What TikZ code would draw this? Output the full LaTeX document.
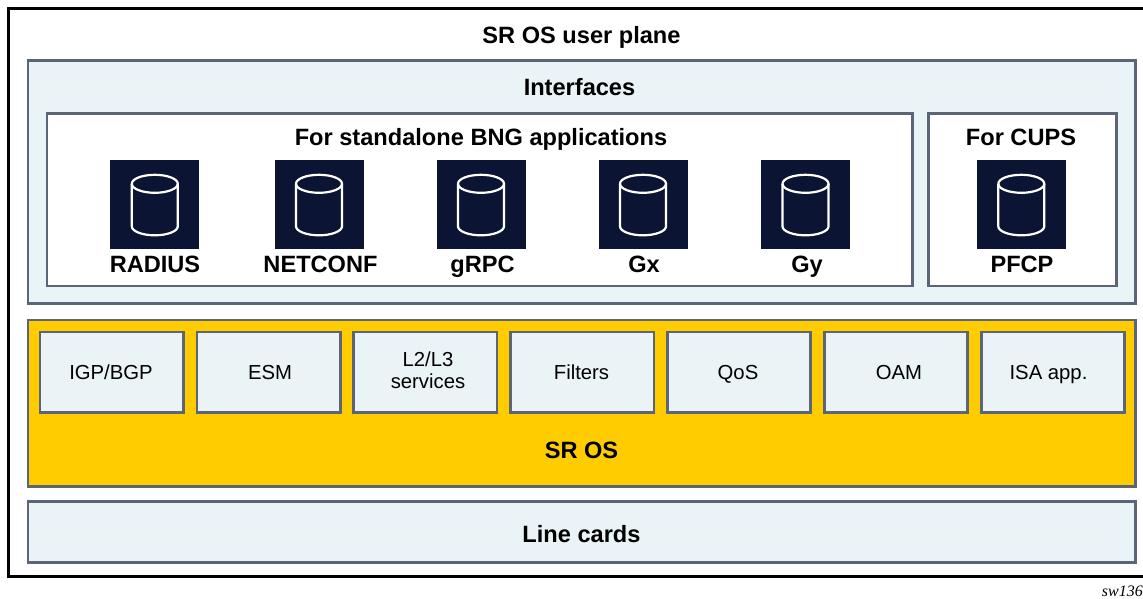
\documentclass[tikz,border=0pt]{standalone}
\usepackage{fontspec}
\setmainfont{Liberation Sans}
\newfontfamily\serifit[ItalicFont=Liberation Serif Italic]{Liberation Serif}
\definecolor{edge}{HTML}{5B6577}
\definecolor{pale}{HTML}{EAF3F5}
\definecolor{navy}{HTML}{0B1533}
\definecolor{gold}{HTML}{FFCC00}
\tikzset{
  x=1pt,y=-1pt,
  panel/.style={draw=edge,line width=2.8pt,fill=pale,rectangle,inner sep=0pt,outer sep=0pt,anchor=north west},
  whitepanel/.style={panel,fill=white},
  goldpanel/.style={panel,fill=gold},
  title/.style={font=\fontsize{23.6}{26}\selectfont\bfseries,text=black,inner sep=0pt,anchor=base},
  tile/.style={panel,minimum width=143.2pt,minimum height=80.4pt},
  tiletext/.style={font=\fontsize{20.3}{21.6}\selectfont,text=black,inner sep=0pt,anchor=base,align=center},
  iconbg/.style={fill=navy,draw=none,rectangle,minimum width=89pt,minimum height=89pt,inner sep=0pt,outer sep=0pt},
}
\newcommand{\dbicon}[3]{%
  \node[iconbg] (#1) at (#2,#3) {};
  \draw[white,line width=2.2pt] (#2-23,#3-21) arc[start angle=180,end angle=-180,x radius=23,y radius=-9];
  \draw[white,line width=2.2pt] (#2-23,#3-21) -- (#2+-23,#3+21.5) arc[start angle=180,end angle=360,x radius=23,y radius=-9] -- (#2+23,#3-21);
}
\begin{document}
\begin{tikzpicture}
\useasboundingbox (0,0) rectangle (1143,599);
\draw[black,line width=2.8pt,fill=white] (8.7,8.7) -- (1150,8.7) -- (1150,576.3) -- (8.7,576.3) -- cycle;
\node[title] (t0) at (581.5,44) {SR OS user plane};
\node[panel,minimum width=1107.8pt,minimum height=243pt] (iface) at (27.9,60.7) {};
\node[title] (t1) at (579.5,96) {Interfaces};
\node[whitepanel,minimum width=865.5pt,minimum height=172.6pt] (bng) at (47,113.4) {};
\node[title] (t2) at (481,146) {For standalone BNG applications};
\node[whitepanel,minimum width=188pt,minimum height=172.6pt] (cups) at (928.3,113.4) {};
\node[title] (t3) at (1021,146) {For CUPS};
\dbicon{i1}{154.8}{204.8}
\dbicon{i2}{319}{204.8}
\dbicon{i3}{481}{204.8}
\dbicon{i4}{643}{204.8}
\dbicon{i5}{805.5}{204.8}
\dbicon{i6}{1021.3}{204.8}
\node[title] (l1) at (155,272.5) {RADIUS};
\node[title] (l2) at (320.5,272.5) {NETCONF};
\node[title] (l3) at (482.5,272.5) {gRPC};
\node[title] (l4) at (644,272.5) {Gx};
\node[title] (l5) at (807,272.5) {Gy};
\node[title] (l6) at (1022,272.5) {PFCP};
\node[goldpanel,minimum width=1107.8pt,minimum height=166.5pt] (sros) at (27.9,320) {};
\node[tile] (b1) at (40,332) {};
\node[tile] (b2) at (196.9,332) {};
\node[tile] (b3) at (353.8,332) {};
\node[tile] (b4) at (510.7,332) {};
\node[tile] (b5) at (667.6,332) {};
\node[tile] (b6) at (824.4,332) {};
\node[tile] (b7) at (981.3,332) {};
\node[tiletext] (x1) at (111,379.3) {IGP/BGP};
\node[tiletext] (x2) at (270,379.3) {ESM};
\node[tiletext] (x3a) at (428,366.7) {L2/L3};
\node[tiletext] (x3b) at (428,388.3) {services};
\node[tiletext] (x4) at (581.5,379.3) {Filters};
\node[tiletext] (x5) at (738,379.3) {QoS};
\node[tiletext] (x6) at (899,379.3) {OAM};
\node[tiletext] (x7) at (1048.5,379.3) {ISA app.};
\node[title] (t4) at (581.5,458.5) {SR OS};
\node[panel,minimum width=1107.8pt,minimum height=61.1pt] (cards) at (27.9,501.4) {};
\node[title] (t5) at (581.5,542.5) {Line cards};
\node[inner sep=0pt,anchor=base east,font=\fontsize{16}{18}\selectfont\serifit\itshape] (tag) at (1143,596.7) {sw136};
\end{tikzpicture}
\end{document}
